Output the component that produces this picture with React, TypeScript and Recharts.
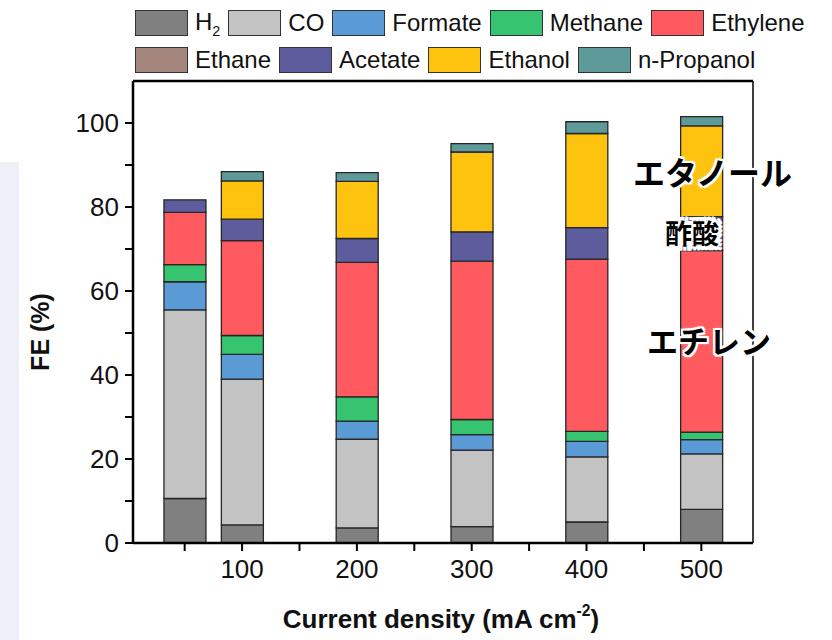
import React from 'react';
import { BarChart, Bar, XAxis, YAxis, ReferenceLine } from 'recharts';

const categories = [50, 100, 200, 300, 400, 500];
const h2 = [10.6, 4.3, 3.6, 3.9, 5.0, 8.0];
const co = [44.9, 34.7, 21.1, 18.2, 15.5, 13.2];
const formate = [6.7, 5.9, 4.3, 3.7, 3.7, 3.4];
const methane = [4.1, 4.5, 5.8, 3.6, 2.4, 1.8];
const ethylene = [12.4, 22.6, 32.0, 37.7, 41.0, 43.2];
const ethane = [0, 0, 0, 0, 0, 0];
const acetate = [3.0, 5.1, 5.7, 7.0, 7.5, 8.1];
const ethanol = [0, 9.1, 13.6, 19.0, 22.4, 21.6];
const propanol = [0, 2.2, 2.1, 2.0, 2.8, 2.2];

const xTicks = [50, 100, 150, 200, 250, 300, 350, 400, 450, 500];
const yTicks = [0, 10, 20, 30, 40, 50, 60, 70, 80, 90, 100];

const seriesNames = ['H2', 'CO', 'Formate', 'Methane', 'Ethylene', 'Ethane', 'Acetate', 'Ethanol', 'n-Propanol'];
const seriesValues = [h2, co, formate, methane, ethylene, ethane, acetate, ethanol, propanol];
const seriesColors = ['#808080', '#c3c3c3', '#5b9bd5', '#37c471', '#ff5a5f', '#a3857c', '#5d5d9e', '#fec30f', '#5e9a99'];

const legendRow1 = [0, 1, 2, 3, 4];
const legendRow2 = [5, 6, 7, 8];

const overlays = [
  { text: 'エタノール', left: 633, top: 155, size: 32, halo: 2 },
  { text: '酢酸', left: 665, top: 219, size: 27, halo: 4 },
  { text: 'エチレン', left: 647, top: 324, size: 31, halo: 2 },
];

const data = categories.map((c, i) => {
  const row: Record<string, number> = { x: c };
  seriesNames.forEach((n, k) => {
    row[n] = seriesValues[k][i];
  });
  return row;
});

const font = '"Liberation Sans", Arial, Helvetica, sans-serif';

function haloShadow(r: number) {
  const parts: string[] = [];
  for (let dx = -r; dx <= r; dx += r) {
    for (let dy = -r; dy <= r; dy += r) {
      if (dx !== 0 || dy !== 0) parts.push(`${dx}px ${dy}px 0 #fff`);
    }
  }
  parts.push(`0 0 ${r * 2}px #fff`);
  return parts.join(', ');
}

function LegendName({ name }: { name: string }) {
  if (name === 'H2') {
    return (
      <span>
        H<span style={{ fontSize: '0.6em', position: 'relative', top: '0.45em' }}>2</span>
      </span>
    );
  }
  return <span>{name}</span>;
}

function LegendRow({ idx, top }: { idx: number[]; top: number }) {
  return (
    <div style={{ position: 'absolute', left: 135, top, display: 'flex', alignItems: 'center', height: 26 }}>
      {idx.map((k) => (
        <div key={k} style={{ display: 'flex', alignItems: 'center', marginRight: 8 }}>
          <div
            style={{
              width: 51,
              height: 24,
              background: seriesColors[k],
              border: '1.5px solid #333',
            }}
          />
          <div style={{ marginLeft: 7, fontSize: 24, color: '#111', lineHeight: '26px', whiteSpace: 'nowrap' }}>
            <LegendName name={seriesNames[k]} />
          </div>
        </div>
      ))}
    </div>
  );
}

export default function App() {
  return (
    <div
      style={{
        position: 'absolute',
        left: 0,
        top: 0,
        width: 832,
        height: 640,
        background: '#fff',
        overflow: 'hidden',
        fontFamily: font,
      }}
    >
      <div style={{ position: 'absolute', left: 0, top: 162, width: 19, height: 478, background: '#eff0f7' }} />
      <div style={{ position: 'absolute', left: 0, top: 0 }}>
        <BarChart width={832} height={640} data={data} margin={{ top: 81, right: 79, left: 73, bottom: 37 }}>
          <XAxis
            type="number"
            dataKey="x"
            domain={[5, 545]}
            ticks={xTicks}
            interval={0}
            tickFormatter={(v: number) => (v % 100 === 0 ? String(v) : '')}
            height={60}
            tickSize={8}
            tickMargin={9}
            axisLine={{ stroke: '#000', strokeWidth: 2.5 }}
            tickLine={{ stroke: '#000', strokeWidth: 2 }}
            tick={{ fill: '#111', fontSize: 26, fontFamily: font }}
          />
          <YAxis
            type="number"
            domain={[0, 110]}
            ticks={yTicks}
            interval={0}
            tickFormatter={(v: number) => (v % 20 === 0 ? String(v) : '')}
            width={60}
            tickSize={8}
            tickMargin={6}
            axisLine={{ stroke: '#000', strokeWidth: 2.5 }}
            tickLine={{ stroke: '#000', strokeWidth: 2 }}
            tick={{ fill: '#111', fontSize: 26, fontFamily: font }}
          />
          {seriesNames.map((n, k) => (
            <Bar
              key={n}
              dataKey={n}
              stackId="a"
              fill={seriesColors[k]}
              stroke="#262626"
              strokeWidth={1.3}
              barSize={42}
              isAnimationActive={false}
            />
          ))}
          <ReferenceLine y={110} stroke="#000" strokeWidth={2.5} />
          <ReferenceLine x={545} stroke="#000" strokeWidth={1.5} />
        </BarChart>
      </div>

      <LegendRow idx={legendRow1} top={10} />
      <LegendRow idx={legendRow2} top={47} />

      <div
        style={{
          position: 'absolute',
          left: 40,
          top: 332,
          transform: 'translate(-50%, -50%) rotate(-90deg)',
          fontSize: 25,
          fontWeight: 700,
          whiteSpace: 'nowrap',
          color: '#111',
        }}
      >
        FE (%)
      </div>
      <div
        style={{
          position: 'absolute',
          left: 441,
          top: 621,
          transform: 'translate(-50%, -50%)',
          fontSize: 26,
          fontWeight: 700,
          whiteSpace: 'nowrap',
          color: '#111',
          lineHeight: '30px',
        }}
      >
        Current density (mA cm
        <span style={{ fontSize: '0.6em', position: 'relative', top: '-0.75em' }}>-2</span>)
      </div>

      {overlays.map((o) => (
        <div
          key={o.text}
          style={{
            position: 'absolute',
            left: o.left,
            top: o.top,
            fontSize: o.size,
            lineHeight: `${o.size}px`,
            fontFamily: '"Noto Sans CJK JP", sans-serif',
            fontWeight: 700,
            color: '#000',
            whiteSpace: 'nowrap',
            textShadow: haloShadow(o.halo),
          }}
        >
          {o.text}
        </div>
      ))}
    </div>
  );
}
